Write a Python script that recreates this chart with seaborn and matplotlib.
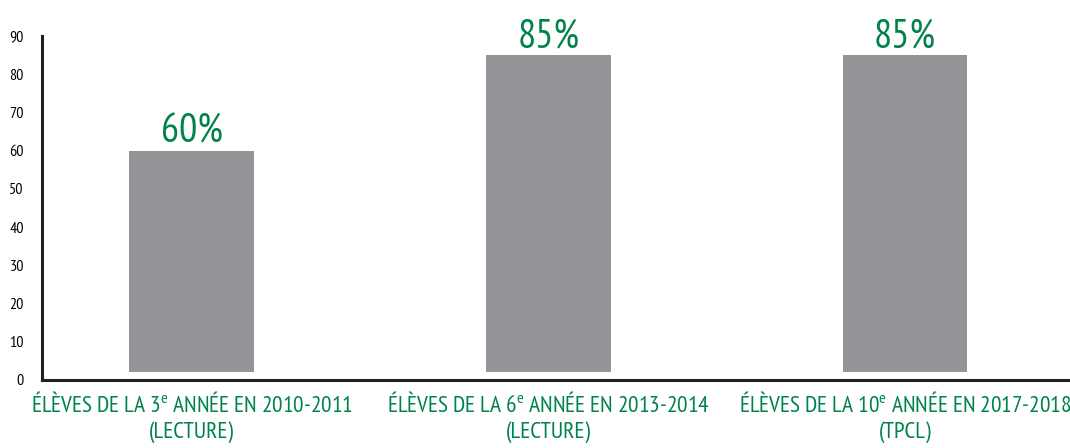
import matplotlib
matplotlib.use("Agg")
import matplotlib.pyplot as plt
import seaborn as sns
import pandas as pd

categories = [
    "ÉLÈVES DE LA 3$^{\\mathrm{e}}$ ANNÉE EN 2010-2011\n(LECTURE)",
    "ÉLÈVES DE LA 6$^{\\mathrm{e}}$ ANNÉE EN 2013-2014\n(LECTURE)",
    "ÉLÈVES DE LA 10$^{\\mathrm{e}}$ ANNÉE EN 2017-2018\n(TPCL)",
]
values = [60, 85, 85]
value_labels = ["60%", "85%", "85%"]
yticks = [0, 10, 20, 30, 40, 50, 60, 70, 80, 90]

sns.set_theme(style="white")
FONT_NAME = "PT Sans Narrow"
font = [FONT_NAME, "DejaVu Sans"]
plt.rcParams["font.family"] = font
plt.rcParams["mathtext.fontset"] = "custom"
plt.rcParams["mathtext.rm"] = FONT_NAME
plt.rcParams["mathtext.it"] = FONT_NAME

GREEN = "#00824a"
BAR = "#939598"
DARK = "#231f20"
BASE = 2.2

fig = plt.figure(figsize=(10.7, 4.48), dpi=100)
ax = fig.add_axes([0.03925, 0.1518, 0.96075, 0.7678])

df = pd.DataFrame({"cat": categories, "val": [v - BASE for v in values]})
sns.barplot(data=df, x="cat", y="val", color=BAR, width=0.35, saturation=1,
            bottom=BASE, ax=ax, edgecolor="none")

for i, (v, lab) in enumerate(zip(values, value_labels)):
    ax.text(i, v + 2.1, lab, ha="center", va="baseline", color=GREEN,
            fontsize=29, family=font)

ax.set_xlim(-0.42, 2.463)
ax.set_ylim(0, 90)
ax.set_yticks(yticks)
ax.set_yticklabels([str(t) for t in yticks], fontsize=11.5, color="black")
ax.set_xticks(range(len(categories)))
ax.set_xticklabels(categories, fontsize=16.8, color=GREEN, linespacing=1.2)
ax.tick_params(axis="both", length=0)
ax.tick_params(axis="y", pad=13)
ax.tick_params(axis="x", pad=9)
ax.set_xlabel("")
ax.set_ylabel("")

for s in ["top", "right"]:
    ax.spines[s].set_visible(False)
for s in ["left", "bottom"]:
    ax.spines[s].set_color(DARK)
    ax.spines[s].set_linewidth(2.2)

fig.savefig("out.png", dpi=100)
